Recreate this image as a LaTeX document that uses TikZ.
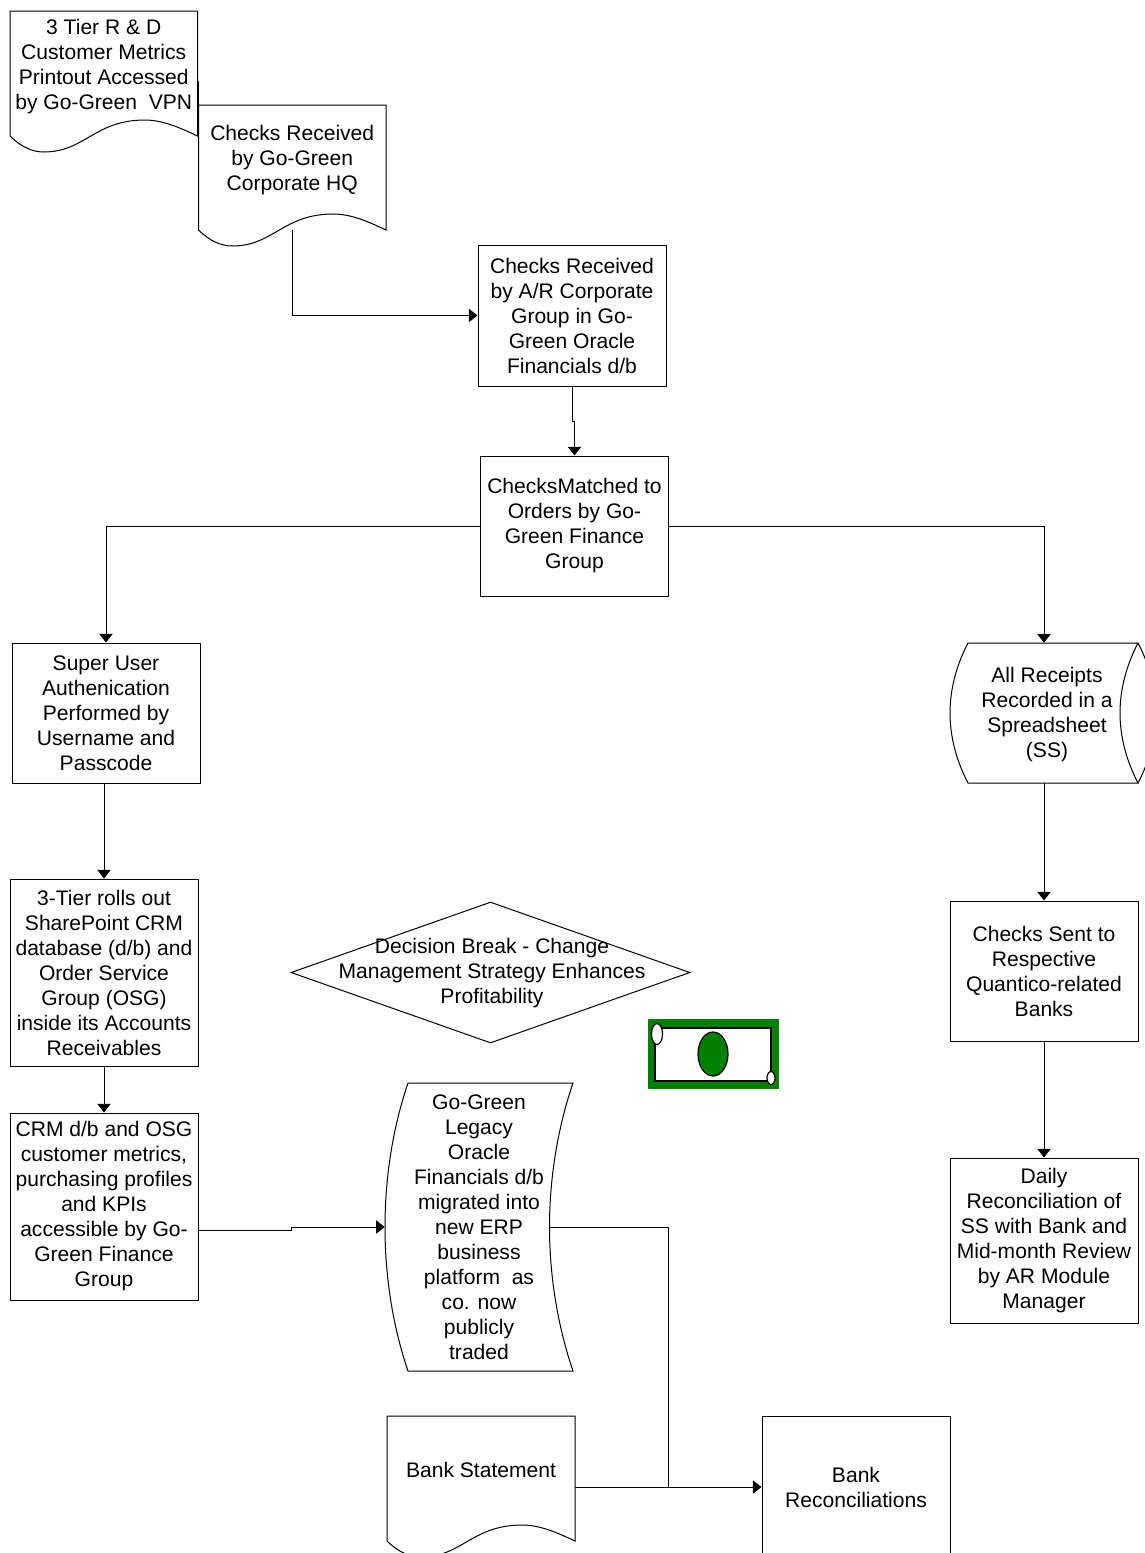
\documentclass[tikz,border=0pt]{standalone}
\usepackage{fontspec}
\setmainfont{Liberation Sans}
\usetikzlibrary{arrows.meta,shapes.geometric}
\tikzset{
  x=0.75pt,y=-0.75pt,
  ln/.style={line width=0.75pt,draw=black},
  arr/.style={ln,-{Triangle[length=6.5pt,width=10pt]}},
  txt/.style={font=\fontsize{15.8}{18.75}\selectfont,align=center,text=black,inner sep=0pt},
  procbox/.style={ln,rectangle,txt,minimum width=188*0.75pt},
  frame/.style={rectangle,inner sep=0pt},
}
% name, x1, x2, ytop, ywave, text centre y, text
\newcommand{\docshape}[7]{%
  \pgfmathsetmacro{\docw}{#3-#2}%
  \node[frame,minimum width={(#3-#2)*0.75pt},minimum height={(#5-#4)*0.75pt}] (#1) at ({(#2+#3)/2},{(#4+#5)/2}) {};
  \draw[ln] (#2,#5) -- (#2,#4) -- (#3,#4) -- (#3,#5)
    .. controls ({#3-0.08*\docw},{#5-7}) and ({#3-0.18*\docw},{#5-16}) .. ({#2+0.72*\docw},{#5-16})
    .. controls ({#2+0.45*\docw},{#5-16}) and ({#2+0.40*\docw},{#5+16}) .. ({#2+0.18*\docw},{#5+16})
    .. controls ({#2+0.12*\docw},{#5+16}) and ({#2+0.06*\docw},{#5+11}) .. (#2,#5);
  \node[txt] (#1t) at ({(#2+#3)/2},#6) {#7};
}
\begin{document}
\begin{tikzpicture}
\useasboundingbox (0,0) rectangle (1145,1553);
\clip (0,0) rectangle (1145,1553);

% documents
\docshape{doca}{10}{197.5}{11}{136}{66.5}{3 Tier R \& D\\Customer Metrics\\Printout Accessed\\by Go-Green\ \ VPN}
\docshape{docb}{198.5}{386}{105}{230}{160.5}{Checks Received\\by Go-Green\\Corporate HQ}
\docshape{bank}{387}{575}{1416}{1541}{1470}{Bank Statement}
\draw[ln] (198,81) -- (198,175);

% process boxes
\node[procbox,minimum height=141*0.75pt] (chk) at (572,315.5) {Checks Received\\by A/R Corporate\\Group in Go-\\Green Oracle\\Financials d/b};
\node[procbox,minimum height=140*0.75pt] (match) at (574.5,526) {ChecksMatched to\\Orders by Go-\\Green Finance\\Group};
\node[procbox,minimum height=140*0.75pt] (su) at (106,713) {Super User\\Authenication\\Performed by\\Username and\\Passcode};
\node[procbox,minimum height=187*0.75pt] (tier) at (104,972.5) {3-Tier rolls out\\SharePoint CRM\\database (d/b) and\\Order Service\\Group (OSG)\\inside its Accounts\\Receivables};
\node[procbox,minimum height=187*0.75pt] (crm) at (104,1206.5) {CRM d/b and OSG\\customer metrics,\\purchasing profiles\\and KPIs\\accessible by Go-\\Green Finance\\Group};
\node[procbox,minimum height=140*0.75pt] (sent) at (1044,971) {Checks Sent to\\Respective\\Quantico-related\\Banks};
\node[procbox,minimum height=165*0.75pt] (daily) at (1044,1240.5) {Daily\\Reconciliation of\\SS with Bank and\\Mid-month Review\\by AR Module\\Manager};
\node[procbox,minimum height=142*0.75pt] (rec) at (856,1487) {Bank\\Reconciliations};

% stored data
\node[frame,minimum width=188*0.75pt,minimum height=140*0.75pt] (ss) at (1044,713) {};
\node[txt] (sst) at (1047,714.5) {All Receipts\\Recorded in a\\Spreadsheet\\(SS)};
\draw[ln] (968,643) -- (1138,643)
  .. controls (1126,666) and (1120,690) .. (1120,713)
  .. controls (1120,736) and (1126,760) .. (1138,783)
  -- (968,783)
  .. controls (956,760) and (950,736) .. (950,713)
  .. controls (950,690) and (956,666) .. (968,643);
\draw[ln] (1138,643) .. controls (1150,666) and (1156,690) .. (1156,713)
  .. controls (1156,736) and (1150,760) .. (1138,783);

% tape
\node[frame,txt,minimum width=188*0.75pt,minimum height=288*0.75pt] (tape) at (479,1227) {Go-Green\\Legacy\\Oracle\\Financials d/b\\migrated into\\new ERP\\business\\platform\ \ as\\co. now\\publicly\\traded};
\draw[ln] (408,1083) -- (573,1083)
  .. controls (557,1130) and (549.5,1180) .. (549.5,1227)
  .. controls (549.5,1274) and (557,1324) .. (573,1371)
  -- (408,1371)
  .. controls (392,1324) and (385,1274) .. (385,1227)
  .. controls (385,1180) and (392,1130) .. (408,1083);

% decision
\node[ln,diamond,aspect=2.83,inner sep=0pt,minimum width=399*0.75pt,minimum height=141*0.75pt] (dec) at (490.5,972.5) {};
\node[txt] (dect) at (492,973.5) {Decision Break - Change\\Management Strategy Enhances\\Profitability};

% money symbol
\node[rectangle,fill=green!50!black,minimum width=131*0.75pt,minimum height=70*0.75pt,inner sep=0pt] (cash) at (713.5,1054) {};
\node[rectangle,fill=white,draw=black,line width=1.5pt,minimum width=116*0.75pt,minimum height=53*0.75pt,inner sep=0pt] (note) at (713,1054.5) {};
\node[ellipse,fill=green!50!black,draw=black,line width=0.9pt,minimum width=30*0.75pt,minimum height=44*0.75pt,inner sep=0pt] (eyec) at (713,1054) {};
\node[ellipse,fill=white,draw=black,line width=0.9pt,minimum width=11*0.75pt,minimum height=21*0.75pt,inner sep=0pt] (eyea) at (657,1034) {};
\node[ellipse,fill=white,draw=black,line width=0.9pt,minimum width=8*0.75pt,minimum height=13*0.75pt,inner sep=0pt] (eyeb) at (771,1078) {};

% connector free ends
\coordinate (crmout) at (198,1230);
\coordinate (tapeout) at (550,1227);
\coordinate (bankout) at (575,1487);
\coordinate (join) at (668,1487);

% connectors
\draw[arr] (docb.south) |- (chk.west);
\draw[arr] (chk.south) -- ++(0,35) -| (match.north);
\draw[arr] (match.west) -| (su.north);
\draw[arr] (match.east) -| (ss.north);
\draw[arr] (tier.north |- su.south) -- (tier.north);
\draw[arr] (tier.south) -- (crm.north);
\draw[arr] (crmout) -- ++(93,0) -- ++(0,-3) -- (tape.west);
\draw[ln] (tapeout) -| (join);
\draw[arr] (bankout) -- (rec.west);
\draw[arr] (ss.south) -- (sent.north);
\draw[arr] (sent.south) -- (daily.north);
\end{tikzpicture}
\end{document}
